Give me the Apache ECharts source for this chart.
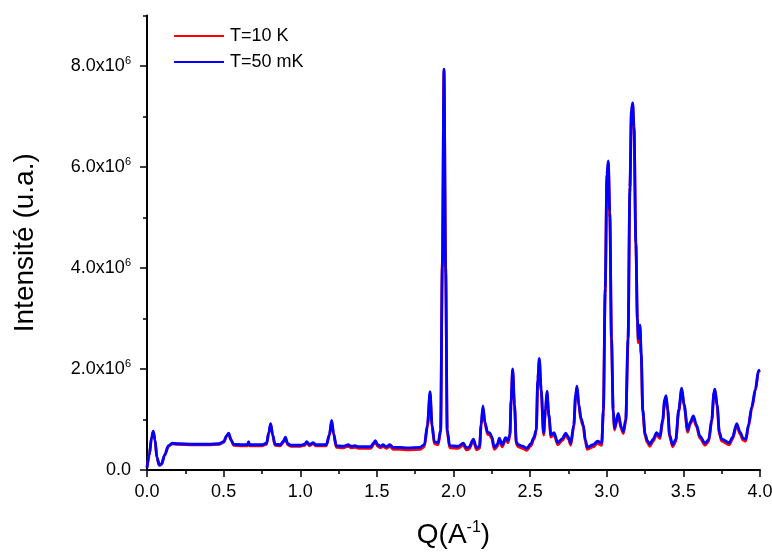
<!DOCTYPE html>
<html>
<head>
<meta charset="utf-8">
<script src="https://cdn.jsdelivr.net/npm/echarts@6/dist/echarts.min.js"></script>
<style>
html,body{margin:0;padding:0;background:#fff;}
#chart{width:772px;height:555px;}
</style>
</head>
<body>
<div id="chart"></div>
<script>
// Q values (A^-1)
var q = [
0.0,0.015,0.03,0.041,0.052,0.065,0.08,0.095,0.115,0.14,
0.165,0.2,0.3,0.4,0.47,0.5,0.52,0.533,0.548,0.565,
0.62,0.655,0.663,0.67,0.75,0.78,0.795,0.807,0.82,0.835,
0.87,0.89,0.903,0.918,0.94,1.0,1.03,1.042,1.06,1.085,
1.1,1.17,1.19,1.205,1.218,1.235,1.28,1.314,1.33,1.357,
1.38,1.46,1.48,1.49,1.505,1.525,1.54,1.56,1.585,1.605,
1.65,1.7,1.78,1.81,1.83,1.847,1.86,1.875,1.9,1.916,
1.927,1.938,1.949,1.959,1.975,2.03,2.064,2.085,2.1,2.13,
2.15,2.17,2.18,2.192,2.205,2.223,2.235,2.249,2.266,2.285,
2.299,2.318,2.34,2.355,2.368,2.376,2.386,2.398,2.41,2.423,
2.45,2.478,2.505,2.525,2.54,2.55,2.56,2.572,2.588,2.6,
2.61,2.622,2.636,2.656,2.68,2.71,2.732,2.75,2.765,2.785,
2.797,2.806,2.818,2.832,2.847,2.86,2.873,2.912,2.94,2.967,
2.978,2.99,3.001,3.01,3.02,3.031,3.042,3.05,3.075,3.095,
3.108,3.124,3.139,3.151,3.161,3.169,3.178,3.19,3.2,3.206,
3.217,3.225,3.235,3.25,3.265,3.282,3.3,3.326,3.347,3.365,
3.378,3.387,3.398,3.41,3.43,3.45,3.47,3.489,3.505,3.528,
3.545,3.565,3.585,3.608,3.641,3.665,3.685,3.7,3.706,3.72,
3.735,3.75,3.8,3.82,3.848,3.87,3.89,3.907,3.925,3.946,
3.97,3.99,4.0
];
// Intensity, T = 50 mK (units of 10^6 u.a.)
var i50mK = [
0.05,0.3,0.65,0.77,0.6,0.25,0.1,0.12,0.3,0.48,
0.53,0.52,0.51,0.51,0.52,0.56,0.68,0.73,0.6,0.51,
0.5,0.5,0.56,0.5,0.5,0.53,0.75,0.92,0.7,0.51,
0.5,0.57,0.65,0.52,0.49,0.49,0.51,0.56,0.5,0.54,
0.5,0.5,0.7,0.98,0.72,0.48,0.47,0.5,0.47,0.48,
0.46,0.46,0.54,0.58,0.5,0.47,0.5,0.46,0.5,0.45,
0.45,0.44,0.45,0.5,0.9,1.55,0.9,0.56,0.54,0.8,
4.0,7.94,4.0,0.8,0.48,0.47,0.53,0.44,0.45,0.61,
0.44,0.47,0.9,1.27,0.95,0.74,0.74,0.67,0.45,0.5,
0.63,0.5,0.64,0.58,0.7,1.4,2.0,1.3,0.55,0.5,
0.47,0.43,0.52,0.65,0.8,1.8,2.21,1.6,0.73,1.2,
1.56,1.1,0.69,0.74,0.54,0.62,0.73,0.65,0.53,0.9,
1.5,1.66,1.3,1.02,0.9,0.6,0.45,0.5,0.57,0.53,
1.2,3.6,5.85,6.12,5.1,2.6,1.2,0.83,1.12,0.85,
0.76,1.0,2.6,5.6,7.12,7.27,6.8,4.5,3.0,2.6,
2.87,2.3,1.2,0.72,0.58,0.51,0.6,0.74,0.66,1.0,
1.4,1.47,1.2,0.7,0.5,0.6,1.2,1.62,1.3,0.79,
0.95,1.07,0.9,0.67,0.53,0.6,1.0,1.55,1.6,1.3,
0.75,0.61,0.54,0.65,0.92,0.75,0.63,0.61,0.9,1.25,
1.6,1.97,1.98
];
// Intensity, T = 10 K (units of 10^6 u.a.)
var i10K = [
0.05,0.3,0.64,0.76,0.59,0.24,0.09,0.11,0.29,0.47,
0.52,0.51,0.5,0.5,0.51,0.55,0.67,0.72,0.59,0.49,
0.48,0.48,0.54,0.48,0.48,0.51,0.73,0.91,0.68,0.49,
0.48,0.55,0.63,0.5,0.47,0.47,0.49,0.54,0.48,0.52,
0.48,0.48,0.68,0.96,0.7,0.45,0.44,0.47,0.44,0.45,
0.43,0.43,0.51,0.56,0.47,0.44,0.47,0.43,0.47,0.41,
0.41,0.4,0.41,0.46,0.86,1.5,0.86,0.52,0.5,0.76,
4.1,7.9,3.9,0.75,0.44,0.43,0.49,0.4,0.41,0.57,
0.4,0.43,0.86,1.23,0.91,0.7,0.7,0.63,0.41,0.46,
0.59,0.46,0.6,0.54,0.66,1.36,1.97,1.26,0.51,0.46,
0.43,0.39,0.48,0.61,0.76,1.76,2.17,1.56,0.69,1.16,
1.52,1.06,0.65,0.7,0.5,0.58,0.69,0.61,0.49,0.86,
1.46,1.63,1.26,0.98,0.86,0.56,0.41,0.46,0.53,0.49,
1.15,3.5,5.75,6.08,5.0,2.55,1.15,0.79,1.08,0.81,
0.72,0.96,2.55,5.5,7.07,7.24,6.75,4.45,2.95,2.52,
2.8,2.25,1.15,0.68,0.54,0.47,0.56,0.7,0.62,0.96,
1.36,1.44,1.16,0.66,0.46,0.56,1.16,1.59,1.26,0.75,
0.91,1.03,0.86,0.63,0.49,0.56,0.96,1.52,1.58,1.26,
0.71,0.57,0.5,0.61,0.88,0.71,0.59,0.57,0.86,1.21,
1.57,1.95,1.97
];
var seriesNames = ['T=10 K', 'T=50 mK'];
var yMajorTicks = [0, 2, 4, 6, 8];
var yMinorTicks = [1, 3, 5, 7, 9];

function pairs(ys) { return q.map(function (x, k) { return [x, ys[k]]; }); }

var FONT = "'Liberation Sans', Arial, sans-serif";
var chart = echarts.init(document.getElementById('chart'));
chart.setOption({
  animation: false,
  backgroundColor: '#fff',
  textStyle: { fontFamily: FONT, color: '#000' },
  grid: { left: 147, right: 12, top: 15.5, bottom: 85, containLabel: false, outerBoundsMode: 'none' },
  legend: {
    orient: 'vertical', left: 169, top: 22,
    itemWidth: 50, itemHeight: 2, itemGap: 8,
    icon: 'rect',
    textStyle: { fontFamily: FONT, fontSize: 18, color: '#000', padding: [0, 0, 0, 1] },
    data: seriesNames
  },
  xAxis: {
    type: 'value', min: 0, max: 4, interval: 0.5,
    name: '{q|Q(A}{s|-1}{q|)}',
    nameLocation: 'middle', nameGap: 50,
    nameTextStyle: {
      rich: {
        q: { fontFamily: FONT, fontSize: 28, color: '#000' },
        s: { fontFamily: FONT, fontSize: 16, color: '#000', padding: [0, 0, 14, 0] }
      }
    },
    axisLine: { onZero: false, lineStyle: { color: '#000', width: 2 } },
    axisTick: { inside: false, length: 7, lineStyle: { color: '#000', width: 1.5 } },
    minorTick: { show: true, splitNumber: 2, length: 4, lineStyle: { color: '#000', width: 1.5 } },
    axisLabel: { margin: 13, fontFamily: FONT, fontSize: 18, color: '#000',
      formatter: function (v) { return v.toFixed(1); } },
    splitLine: { show: false }
  },
  yAxis: [{
    type: 'value', min: 0, max: 9,
    name: 'Intensité (u.a.)',
    nameLocation: 'middle', nameGap: 108,
    nameTextStyle: { fontFamily: FONT, fontSize: 28, color: '#000' },
    axisLine: { onZero: false, lineStyle: { color: '#000', width: 2 } },
    axisTick: { inside: false, length: 7, customValues: yMajorTicks, lineStyle: { color: '#000', width: 1.5 } },
    axisLabel: {
      margin: 16, customValues: yMajorTicks,
      formatter: function (v) { return v === 0 ? '{m|0.0}' : '{m|' + v.toFixed(1) + 'x10}{s|6}'; },
      rich: {
        m: { fontFamily: FONT, fontSize: 18, color: '#000' },
        s: { fontFamily: FONT, fontSize: 11, color: '#000', padding: [0, 0, 10, 0] }
      }
    },
    splitLine: { show: false }
  }, {
    type: 'value', min: 0, max: 9, position: 'left',
    axisLine: { show: false },
    axisTick: { show: true, inside: false, length: 4, customValues: yMinorTicks, lineStyle: { color: '#000', width: 1.5 } },
    axisLabel: { show: false },
    splitLine: { show: false }
  }],
  series: [{
    name: seriesNames[0], type: 'line', data: pairs(i10K),
    showSymbol: false, smooth: 0.3, smoothMonotone: 'x',
    itemStyle: { color: '#ff0000' },
    lineStyle: { color: '#ff0000', width: 2.8 }
  }, {
    name: seriesNames[1], type: 'line', data: pairs(i50mK),
    showSymbol: false, smooth: 0.3, smoothMonotone: 'x',
    itemStyle: { color: '#0000ff' },
    lineStyle: { color: '#0000ff', width: 2.8 }
  }]
});
</script>
</body>
</html>
